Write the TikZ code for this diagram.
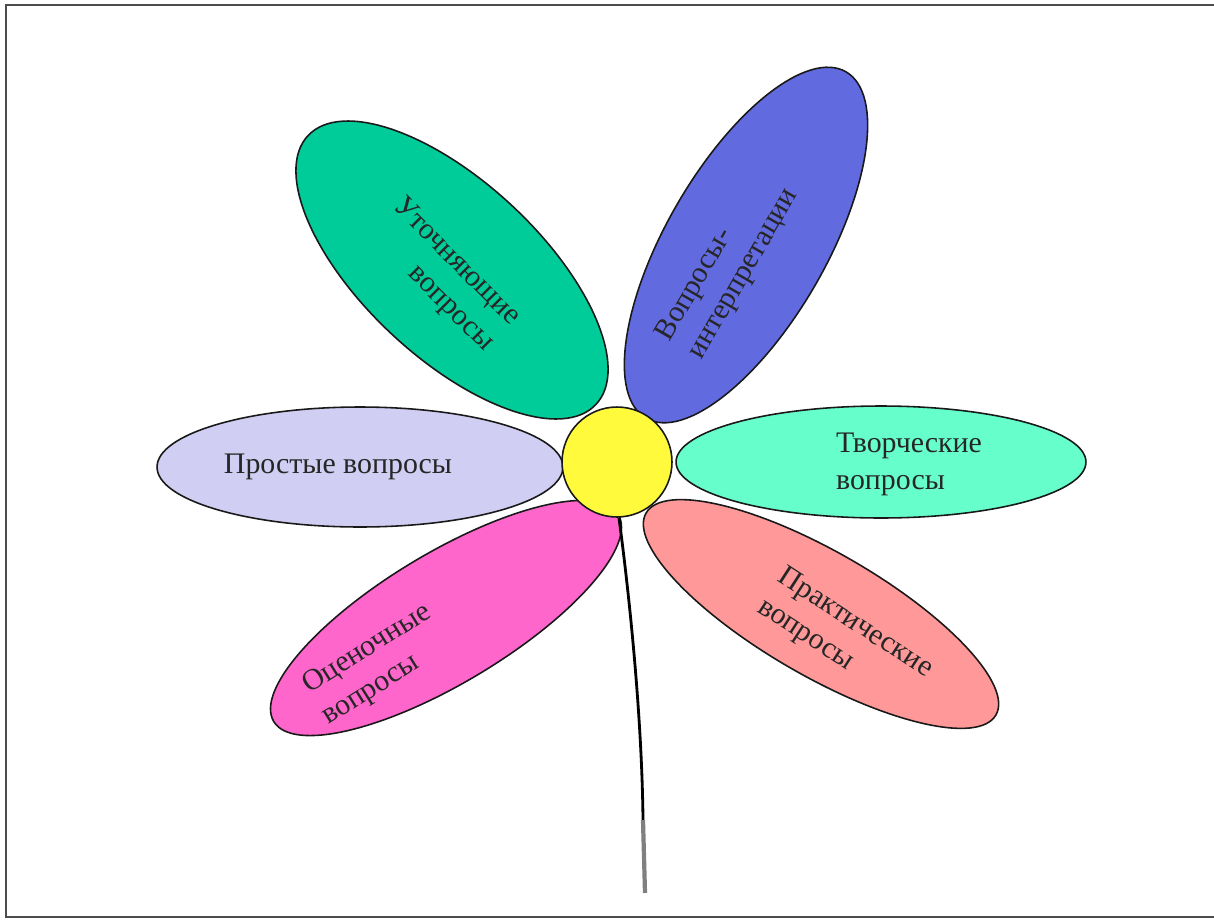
\documentclass[tikz,border=0pt]{standalone}
\usepackage{fontspec}
\setmainfont{Liberation Serif}
\usetikzlibrary{shapes.geometric}

\definecolor{lavender}{RGB}{208,206,242}
\definecolor{petalgreen}{RGB}{0,204,153}
\definecolor{petalblue}{RGB}{98,106,224}
\definecolor{aqua}{RGB}{102,255,204}
\definecolor{petalpink}{RGB}{255,102,204}
\definecolor{salmon}{RGB}{255,153,153}
\definecolor{heartyellow}{RGB}{255,250,60}

\tikzset{
  petal/.style={ellipse, draw=black!90, line width=0.9pt, inner sep=0pt},
  petaltext/.style={font=\fontsize{17}{21}\selectfont, text=black!85, inner sep=0pt}
}

\begin{document}
\begin{tikzpicture}[x=0.02cm,y=-0.02cm]

\useasboundingbox (0,0) rectangle (1214,920);

% frame
\draw[black!70, line width=1.4pt] (1214,5)--(6,5)--(6,917)--(1214,917);

% petals
\node [petal, fill=lavender, minimum width=8.12cm, minimum height=2.4cm] (simple) at (360,467) {};
\node [petal, fill=aqua, minimum width=8.2cm, minimum height=2.24cm] (creative) at (881,462) {};
\node [petal, fill=petalgreen, minimum width=7.88cm, minimum height=3.52cm, rotate=-43] (refining) at (452,270) {};
\node [petal, fill=petalblue, minimum width=8cm, minimum height=3.2cm, rotate=60] (interp) at (746,245) {};
\node [petal, fill=petalpink, minimum width=8.04cm, minimum height=2.6cm, rotate=31] (evaluative) at (446,618) {};
\node [petal, fill=salmon, minimum width=8.08cm, minimum height=2.48cm, rotate=-30] (practical) at (821,614) {};

% texts
\node [petaltext] (simpletext) at (338,467) {Простые вопросы};
\node [petaltext, align=left] (creativetext) at (909,464) {Творческие\\вопросы};
\node [petaltext, align=right, rotate=-45] (refiningtext) at (443,275) {Уточняющие\\вопросы};
\node [petaltext, align=left, rotate=60] (interptext) at (728,265) {Вопросы-\\интерпретации};
\node [petaltext, align=left, rotate=32] (evaluativetext) at (377,665) {Оценочные\\вопросы};
\node [petaltext, align=left, rotate=-33] (practicaltext) at (845,639) {Практические\\вопросы};

% heart and stem
\node [circle, draw=black!90, line width=0.9pt, fill=heartyellow, minimum size=2.2cm, inner sep=0pt] (heart) at (617,462) {};

\coordinate (stemmid) at (643,820);
\coordinate (stemend) at (645,893);
\draw[line width=1.6pt] (heart.-88) .. controls (630,600) and (642,720) .. (stemmid);
\draw[gray, line width=2.4pt] (stemmid)--(stemend);

\end{tikzpicture}
\end{document}
